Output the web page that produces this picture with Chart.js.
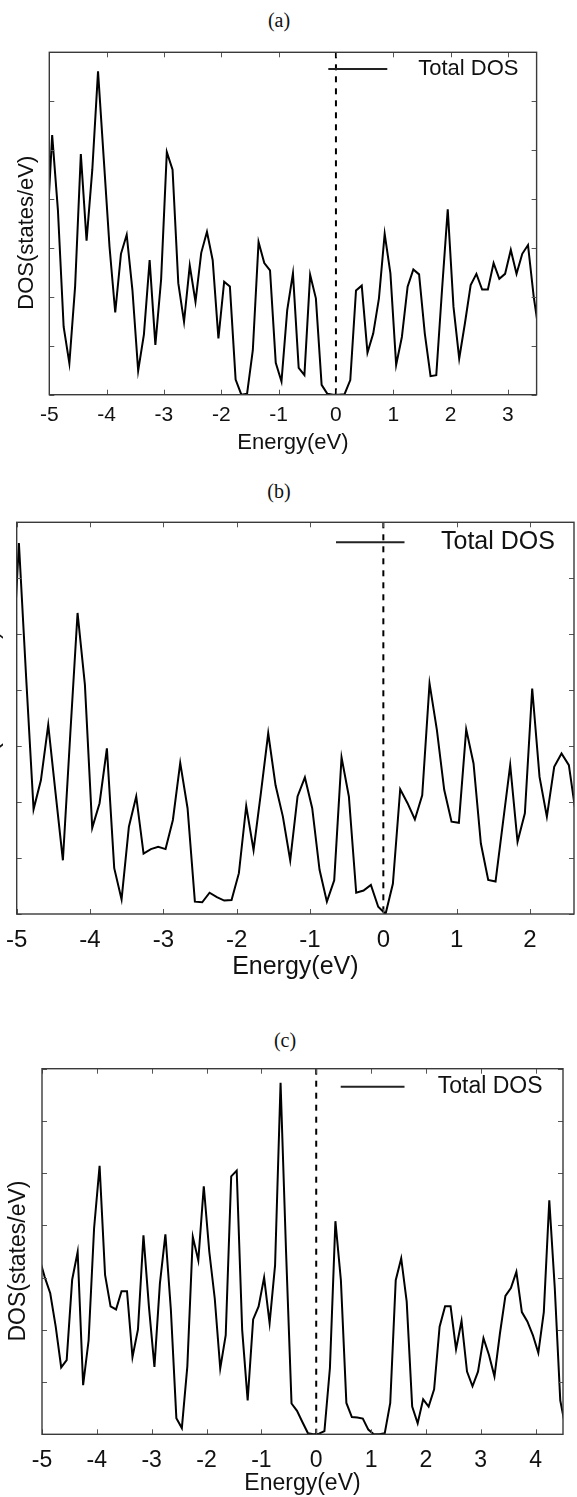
<!DOCTYPE html>
<html lang="en">
<head>
<meta charset="utf-8">
<title>Total DOS</title>
<script src="https://cdn.jsdelivr.net/npm/chart.js@4.4.1/dist/chart.umd.min.js"></script>
<style>
  html, body { margin: 0; padding: 0; background: #fff; }
  body { position: relative; width: 577px; height: 1497px; overflow: hidden; }
  .tag { position: absolute; transform: translate(-50%, -50%); font: 20px "Liberation Serif", "DejaVu Serif", serif; color: #111; }
  canvas { position: absolute; }
</style>
</head>
<body>
<div class="tag" style="left:279px; top:20px">(a)</div>
<div class="tag" style="left:279px; top:491px">(b)</div>
<div class="tag" style="left:285px; top:1040px">(c)</div>
<canvas id="dosA" width="577" height="430" style="left:0; top:30px"></canvas>
<canvas id="dosB" width="617" height="485" style="left:-40px; top:500px"></canvas>
<canvas id="dosC" width="577" height="447" style="left:0; top:1050px"></canvas>
<script>
// energy grids (eV) and total DOS (states/eV)
const energyA = [-5.05,-4.95,-4.85,-4.75,-4.65,-4.55,-4.45,-4.35,-4.25,-4.15,
  -4.05,-3.95,-3.85,-3.75,-3.65,-3.55,-3.45,-3.35,-3.25,-3.15,
  -3.05,-2.95,-2.85,-2.75,-2.65,-2.55,-2.45,-2.35,-2.25,-2.15,
  -2.05,-1.95,-1.85,-1.75,-1.65,-1.55,-1.45,-1.35,-1.25,-1.15,
  -1.05,-0.95,-0.85,-0.75,-0.65,-0.55,-0.45,-0.35,-0.25,-0.15,
  -0.05,0.05,0.15,0.25,0.35,0.45,0.55,0.65,0.75,0.85,
  0.95,1.05,1.15,1.25,1.35,1.45,1.55,1.65,1.75,1.85,
  1.95,2.05,2.15,2.25,2.35,2.45,2.55,2.65,2.75,2.85,
  2.95,3.05,3.15,3.25,3.35,3.45,3.55];
const dosA = [3.1,5.31,3.78,1.39,0.64,2.21,4.92,3.15,4.6,6.61,
  4.82,3.03,1.68,2.88,3.27,2.14,0.49,1.23,2.75,1.02,
  2.35,4.96,4.6,2.28,1.49,2.64,1.9,2.9,3.33,2.75,
  1.15,2.31,2.21,0.31,0,0.02,0.91,3.12,2.69,2.54,
  0.65,0.27,1.73,2.48,0.55,0.4,2.45,1.97,0.2,0.02,
  0,0,0.01,0.3,2.13,2.23,0.86,1.25,1.97,3.29,
  2.48,0.61,1.18,2.21,2.56,2.46,1.25,0.38,0.4,2.14,
  3.79,1.8,0.74,1.46,2.24,2.47,2.15,2.15,2.69,2.37,
  2.47,2.96,2.47,2.88,3.06,2.0,1.2];

const energyB = [-5.07,-4.97,-4.87,-4.77,-4.67,-4.57,-4.47,-4.37,-4.27,-4.17,
  -4.07,-3.97,-3.87,-3.77,-3.67,-3.57,-3.47,-3.37,-3.27,-3.17,
  -3.07,-2.97,-2.87,-2.77,-2.67,-2.57,-2.47,-2.37,-2.27,-2.17,
  -2.07,-1.97,-1.87,-1.77,-1.67,-1.57,-1.47,-1.37,-1.27,-1.17,
  -1.07,-0.97,-0.87,-0.77,-0.67,-0.57,-0.47,-0.37,-0.27,-0.17,
  -0.07,0.03,0.13,0.23,0.33,0.43,0.53,0.63,0.73,0.83,
  0.93,1.03,1.13,1.23,1.33,1.43,1.53,1.63,1.73,1.83,
  1.93,2.03,2.13,2.23,2.33,2.43,2.53,2.63];
const dosB = [4.1,6.63,4.2,1.87,2.39,3.38,2.16,0.96,3.2,5.38,
  4.1,1.54,1.98,2.96,0.82,0.26,1.56,2.1,1.08,1.16,
  1.2,1.16,1.68,2.7,1.89,0.22,0.21,0.38,0.3,0.24,
  0.25,0.73,1.93,1.14,2.16,3.23,2.3,1.74,0.96,2.1,
  2.44,1.89,0.79,0.22,0.6,2.8,2.1,0.38,0.42,0.52,
  0.13,0,0.54,2.23,1.98,1.69,2.12,4.12,3.29,2.22,
  1.65,1.63,3.3,2.69,1.26,0.61,0.58,1.62,2.66,1.29,
  1.8,4.03,2.45,1.74,2.63,2.87,2.66,1.74];

const energyC = [-5.05,-4.95,-4.85,-4.75,-4.65,-4.55,-4.45,-4.35,-4.25,-4.15,
  -4.05,-3.95,-3.85,-3.75,-3.65,-3.55,-3.45,-3.35,-3.25,-3.15,
  -3.05,-2.95,-2.85,-2.75,-2.65,-2.55,-2.45,-2.35,-2.25,-2.15,
  -2.05,-1.95,-1.85,-1.75,-1.65,-1.55,-1.45,-1.35,-1.25,-1.15,
  -1.05,-0.95,-0.85,-0.75,-0.65,-0.55,-0.45,-0.35,-0.25,-0.15,
  -0.05,0.05,0.15,0.25,0.35,0.45,0.55,0.65,0.75,0.85,
  0.95,1.05,1.15,1.25,1.35,1.45,1.55,1.65,1.75,1.85,
  1.95,2.05,2.15,2.25,2.35,2.45,2.55,2.65,2.75,2.85,
  2.95,3.05,3.15,3.25,3.35,3.45,3.55,3.65,3.75,3.85,
  3.95,4.05,4.15,4.25,4.35,4.45,4.55];
const dosC = [3.37,3.01,2.7,2.06,1.28,1.42,2.96,3.49,0.94,1.8,
  3.95,5.14,3.05,2.45,2.39,2.74,2.74,1.48,2.01,3.81,
  2.44,1.29,2.89,3.83,2.38,0.31,0.12,1.3,3.78,3.33,
  4.75,3.5,2.6,1.26,1.9,4.94,5.05,2.0,0.65,2.2,
  2.45,3.0,2.13,3.24,6.73,3.5,0.59,0.45,0.23,0.02,
  0,0.01,0.06,1.27,4.08,2.95,0.6,0.33,0.32,0.3,
  0.09,0,0,0.02,0.6,2.95,3.37,2.54,0.53,0.21,
  0.67,0.53,0.86,2.06,2.45,2.45,1.63,2.17,1.2,0.92,
  1.2,1.84,1.52,1.11,1.93,2.65,2.8,3.11,2.34,2.16,
  1.9,1.56,2.34,4.48,2.8,0.65,0.1];

// tick values
const ticksA = [-5,-4,-3,-2,-1,0,1,2,3];
const ticksB = [-5,-4,-3,-2,-1,0,1,2];
const ticksC = [-5,-4,-3,-2,-1,0,1,2,3,4];
const dosTicks = [0,1,2,3,4,5,6,7];

const FONT = '"Liberation Sans", Arial, Helvetica, sans-serif';
Chart.defaults.color = '#111';

// frame, inward ticks, Fermi level and the in-plot legend
const dosDecor = {
  id: 'dosDecor',
  afterDatasetsDraw(chart, args, o) {
    const { ctx, chartArea: a, scales: { x, y } } = chart;
    ctx.save();
    const xf = x.getPixelForValue(0);
    ctx.strokeStyle = '#000';
    ctx.lineWidth = 2;
    ctx.setLineDash([6, 6]);
    ctx.beginPath();
    ctx.moveTo(xf, a.top);
    ctx.lineTo(xf, a.bottom);
    ctx.stroke();
    ctx.setLineDash([]);

    ctx.strokeStyle = '#555';
    ctx.lineWidth = 1;
    ctx.beginPath();
    x.ticks.forEach(t => {
      const p = Math.round(x.getPixelForValue(t.value)) + 0.5;
      ctx.moveTo(p, a.bottom); ctx.lineTo(p, a.bottom - 5);
      ctx.moveTo(p, a.top); ctx.lineTo(p, a.top + 5);
    });
    y.ticks.forEach(t => {
      const p = Math.round(y.getPixelForValue(t.value)) + 0.5;
      ctx.moveTo(a.left, p); ctx.lineTo(a.left + 5, p);
      ctx.moveTo(a.right, p); ctx.lineTo(a.right - 5, p);
    });
    ctx.stroke();

    ctx.strokeStyle = '#3a3a3a';
    ctx.lineWidth = 1.4;
    ctx.strokeRect(a.left, a.top, a.width, a.height);

    const yl = a.top + o.dy;
    ctx.strokeStyle = '#222';
    ctx.lineWidth = 2;
    ctx.beginPath();
    ctx.moveTo(a.right - o.lineStart, yl);
    ctx.lineTo(a.right - o.lineEnd, yl);
    ctx.stroke();
    ctx.fillStyle = '#111';
    ctx.font = o.size + 'px ' + FONT;
    ctx.textBaseline = 'middle';
    ctx.textAlign = 'left';
    ctx.fillText(chart.data.datasets[0].label, a.right - o.textX, yl + o.textDy);
    ctx.restore();
  }
};

function makePanel(id, p) {
  return new Chart(document.getElementById(id), {
    type: 'line',
    data: {
      datasets: [{
        label: 'Total DOS',
        data: p.energy.map((e, i) => ({ x: e, y: p.dos[i] })),
        borderColor: '#000',
        borderWidth: 2,
        pointRadius: 0,
        tension: 0,
        fill: false
      }]
    },
    options: {
      responsive: false,
      animation: false,
      events: [],
      layout: { padding: p.pad },
      plugins: { legend: { display: false }, tooltip: { enabled: false }, dosDecor: p.legend },
      scales: {
        x: {
          type: 'linear',
          min: p.xMin,
          max: p.xMax,
          afterBuildTicks: s => { s.ticks = p.xTicks.map(v => ({ value: v })); },
          afterFit: s => { s.height = p.xAxisHeight; },
          grid: { display: false, drawTicks: false },
          border: { display: false },
          ticks: { padding: p.tickPad, maxRotation: 0, autoSkip: false, font: { family: FONT, size: p.tickSize } },
          title: {
            display: true, text: 'Energy(eV)',
            font: { family: FONT, size: p.titleSize },
            padding: { top: 0, bottom: p.xTitlePad }
          }
        },
        y: {
          type: 'linear',
          min: 0,
          max: 7,
          afterBuildTicks: s => { s.ticks = dosTicks.map(v => ({ value: v })); },
          afterFit: s => { s.width = p.yAxisWidth; },
          grid: { display: false, drawTicks: false },
          border: { display: false },
          ticks: { display: false },
          title: {
            display: true, text: 'DOS(states/eV)' + ' '.repeat(p.yShift),
            font: { family: FONT, size: p.titleSize },
            padding: { top: p.yTitlePad, bottom: 0 }
          }
        }
      }
    },
    plugins: [dosDecor]
  });
}

makePanel('dosA', {
  energy: energyA, dos: dosA, xTicks: ticksA, xMin: -5, xMax: 3.5,
  pad: { left: 0, right: 40.4, top: 22.3, bottom: 0 },
  yAxisWidth: 49.3, xAxisHeight: 65.3,
  tickSize: 21, tickPad: 8, titleSize: 22, xTitlePad: 3.8, yTitlePad: 14, yShift: 3,
  legend: { dy: 16.7, lineStart: 208.3, lineEnd: 149.3, textX: 118.4, textDy: 0, size: 22 }
});

makePanel('dosB', {
  energy: energyB, dos: dosB, xTicks: ticksB, xMin: -5, xMax: 2.6,
  pad: { left: 0, right: 3, top: 22.3, bottom: 0 },
  yAxisWidth: 56.7, xAxisHeight: 71,
  tickSize: 24, tickPad: 11.6, titleSize: 25, xTitlePad: 3.3, yTitlePad: 16, yShift: 0,
  legend: { dy: 20, lineStart: 238, lineEnd: 169.5, textX: 133, textDy: 0, size: 25 }
});

makePanel('dosC', {
  energy: energyC, dos: dosC, xTicks: ticksC, xMin: -5, xMax: 4.5,
  pad: { left: 0, right: 14, top: 18.7, bottom: 0 },
  yAxisWidth: 42, xAxisHeight: 62.7,
  tickSize: 23, tickPad: 12.2, titleSize: 23, xTitlePad: 0, yTitlePad: 4.6, yShift: 3,
  legend: { dy: 18, lineStart: 222.3, lineEnd: 158.5, textX: 125.3, textDy: 0, size: 23 }
});
</script>
</body>
</html>
